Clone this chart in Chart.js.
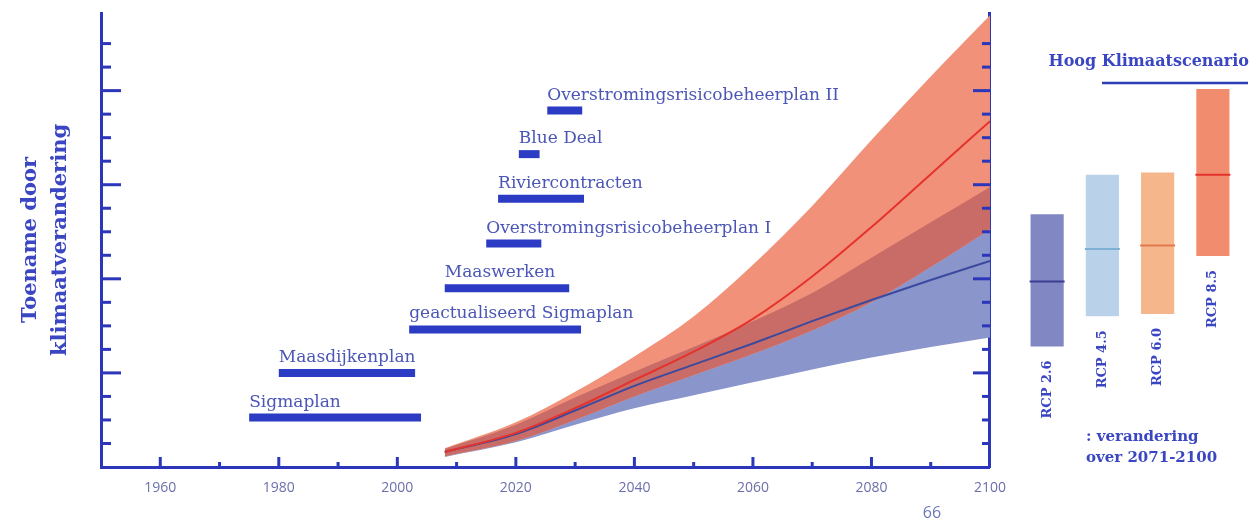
<!DOCTYPE html>
<html><head><meta charset="utf-8">
<script src="https://cdn.jsdelivr.net/npm/chart.js@4.4.0/dist/chart.umd.min.js"></script>
<style>
html,body{margin:0;padding:0;background:#fff;width:1260px;height:520px;overflow:hidden;}
#c1{position:absolute;left:0;top:0;}
#c2{position:absolute;left:1000px;top:0;}
</style></head><body>
<canvas id="c1" width="1019" height="520"></canvas>
<canvas id="c2" width="260" height="520"></canvas>
<script>
// ---- data ----
const years     = [2008, 2020, 2030, 2040, 2050, 2060, 2070, 2080, 2090, 2100];
const redUpper  = [0.8, 1.9, 3.2, 4.7, 6.4, 8.6, 11.1, 13.9, 16.6, 19.2];
const redMid    = [0.64, 1.45, 2.5, 3.7, 4.9, 6.3, 8.1, 10.2, 12.45, 14.7];
const redLower  = [0.45, 1.1, 2.0, 3.0, 3.9, 4.8, 5.8, 7.0, 8.5, 10.1];
const blueUpper = [0.77, 1.8, 2.95, 4.05, 5.1, 6.2, 7.4, 8.9, 10.4, 11.9];
const blueMid   = [0.64, 1.4, 2.4, 3.45, 4.35, 5.25, 6.2, 7.1, 7.95, 8.76];
const blueLower = [0.43, 1.05, 1.8, 2.5, 3.05, 3.6, 4.15, 4.65, 5.1, 5.5];

const planNames = ['Sigmaplan', 'Maasdijkenplan', 'geactualiseerd Sigmaplan', 'Maaswerken',
                   'Overstromingsrisicobeheerplan I', 'Riviercontracten', 'Blue Deal', 'Overstromingsrisicobeheerplan II'];
const planStart = [1975, 1980, 2002, 2008, 2015, 2017, 2020.5, 2025.3];
const planEnd   = [2004, 2003, 2031, 2029, 2024.3, 2031.5, 2024, 2031.2];
const planLevel = [2.1, 4.0, 5.85, 7.6, 9.5, 11.4, 13.3, 15.15];

const xTickYears = [1960, 1980, 2000, 2020, 2040, 2060, 2080, 2100];

const rcpLabels = ['RCP 2.6', 'RCP 4.5', 'RCP 6.0', 'RCP 8.5'];
const rcpLow    = [5.2, 6.5, 6.6, 9.1];
const rcpHigh   = [10.9, 12.6, 12.7, 16.3];
const rcpMid    = [8.0, 9.4, 9.55, 12.6];

// ---- styles ----
const AXIS = '#2b36bb';
const rcpColors    = ['#8087c2', '#bad1ea', '#f6b68c', '#f28c6e'];
const rcpMidColors = ['#3b3f92', '#7eb0d4', '#e2794e', '#e3322b'];

const pts = arr => years.map((x, i) => ({x, y: arr[i]}));
const band = {borderWidth: 0, borderColor: 'rgba(0,0,0,0)', pointRadius: 0, cubicInterpolationMode: 'monotone'};

const datasets = [
  {label: 'blueLower', data: pts(blueLower), ...band, fill: false, order: 20},
  {label: 'blueUpper', data: pts(blueUpper), ...band, fill: {target: 0}, backgroundColor: '#8a95cc', order: 19},
  {label: 'redLower',  data: pts(redLower),  ...band, fill: false, order: 18},
  {label: 'redUpper',  data: pts(redUpper),  ...band, fill: {target: 2}, backgroundColor: '#f1917a', order: 17},
  {label: 'overlap',   data: pts(blueUpper), ...band, fill: {target: 2, above: '#c96b67', below: 'rgba(0,0,0,0)'}, order: 16},
  {label: 'blueMid', data: pts(blueMid), borderColor: '#3c4a9e', borderWidth: 2, pointRadius: 0, cubicInterpolationMode: 'monotone', fill: false, order: 5},
  {label: 'redMid',  data: pts(redMid),  borderColor: '#e5332c', borderWidth: 2, pointRadius: 0, cubicInterpolationMode: 'monotone', fill: false, order: 4}
];
planNames.forEach((n, i) => {
  datasets.push({label: n, data: [{x: planStart[i], y: planLevel[i]}, {x: planEnd[i], y: planLevel[i]}],
    borderColor: '#2b3bc4', borderWidth: 8, borderCapStyle: 'butt', pointRadius: 0, fill: false, order: 1});
});

const axisTicks = {
  id: 'axisTicks',
  afterDraw(chart) {
    const {ctx, chartArea: {left, right, bottom}, scales: {x, y}} = chart;
    ctx.save();
    ctx.strokeStyle = AXIS; ctx.lineWidth = 3; ctx.lineCap = 'butt';
    y.ticks.forEach(t => {
      const v = t.value;
      if (!Number.isInteger(v) || v <= 0) return;
      const py = y.getPixelForValue(v), major = v % 4 === 0;
      ctx.beginPath(); ctx.moveTo(left, py); ctx.lineTo(left + (major ? 20 : 10), py); ctx.stroke();
      ctx.beginPath(); ctx.moveTo(right, py); ctx.lineTo(right - (major ? 17 : 8), py); ctx.stroke();
    });
    x.ticks.forEach(t => {
      const v = t.value;
      if (v <= 1950 || v >= 2100) return;
      const px = x.getPixelForValue(v), major = xTickYears.includes(v);
      ctx.beginPath(); ctx.moveTo(px, bottom); ctx.lineTo(px, bottom - (major ? 10 : 5)); ctx.stroke();
    });
    ctx.fillStyle = '#4b56b6'; ctx.font = '17px "DejaVu Serif"';
    ctx.textAlign = 'left'; ctx.textBaseline = 'alphabetic';
    planNames.forEach((n, i) => ctx.fillText(n, x.getPixelForValue(planStart[i]), y.getPixelForValue(planLevel[i]) - 11));
    ctx.fillStyle = '#6a78b8'; ctx.font = '16px "Open Sans"'; ctx.textAlign = 'center'; ctx.textBaseline = 'middle';
    ctx.fillText('66', 932, 513);
    ctx.restore();
  }
};

new Chart(document.getElementById('c1'), {
  type: 'line',
  data: {datasets},
  options: {
    responsive: false, animation: false, events: [],
    layout: {padding: {top: 13, right: 20, left: 0, bottom: 0}},
    plugins: {legend: {display: false}, tooltip: {enabled: false}},
    scales: {
      x: {type: 'linear', min: 1950, max: 2100, position: 'bottom', z: 1,
        grid: {display: false, drawTicks: false}, border: {display: true, color: AXIS, width: 3},
        ticks: {stepSize: 10, autoSkip: false, maxRotation: 0, padding: 13, color: '#6b70aa',
          font: {family: 'Open Sans', size: 14}, callback: v => xTickYears.includes(v) ? String(v) : ''},
        afterFit: s => { s.height = 53; }},
      y: {type: 'linear', min: 0, max: 19.3, position: 'left', z: 1,
        grid: {display: false, drawTicks: false}, border: {display: true, color: AXIS, width: 3},
        ticks: {display: false, stepSize: 1},
        title: {display: true, text: ['Toename door', 'klimaatverandering'], color: '#3a46c2',
          font: {family: 'DejaVu Serif', size: 21, weight: 'bold', lineHeight: 1.45}, padding: {top: 15, bottom: 0}},
        afterFit: s => { s.width = 101; }},
      y2: {type: 'linear', min: 0, max: 19.3, position: 'right', z: 1,
        grid: {display: false, drawTicks: false}, border: {display: true, color: AXIS, width: 3},
        ticks: {display: false, stepSize: 1},
        afterFit: s => { s.width = 0; }}
    }
  },
  plugins: [axisTicks]
});

const rcpText = {
  id: 'rcpText',
  afterDraw(chart) {
    const {ctx, scales: {x, y}} = chart;
    ctx.save();
    ctx.fillStyle = '#3a46c2';
    ctx.font = 'bold 13px "DejaVu Serif"';
    rcpLabels.forEach((l, i) => {
      ctx.save();
      ctx.translate(x.getPixelForValue(i), y.getPixelForValue(rcpLow[i]) + 14);
      ctx.rotate(-Math.PI / 2);
      ctx.textAlign = 'right'; ctx.textBaseline = 'middle';
      ctx.fillText(l, 0, 0);
      ctx.restore();
    });
    ctx.font = 'bold 16px "DejaVu Serif"';
    ctx.textAlign = 'right'; ctx.textBaseline = 'middle';
    ctx.fillText('Hoog Klimaatscenario', 249, 62);
    ctx.strokeStyle = '#2f3cb8'; ctx.lineWidth = 2.5;
    ctx.beginPath(); ctx.moveTo(102, 83); ctx.lineTo(248, 83); ctx.stroke();
    ctx.font = 'bold 15px "DejaVu Serif"';
    ctx.textAlign = 'left';
    ctx.fillText(': verandering', 86, 437);
    ctx.fillText('over 2071-2100', 86, 458);
    ctx.restore();
  }
};

new Chart(document.getElementById('c2'), {
  type: 'bar',
  data: {
    labels: rcpLabels,
    datasets: [
      {type: 'line', data: rcpMid, showLine: false, pointStyle: 'line', pointRadius: 17.5, pointBorderWidth: 2,
       pointBorderColor: rcpMidColors, pointBackgroundColor: rcpMidColors, order: 1},
      {type: 'bar', data: rcpLabels.map((_, i) => [rcpLow[i], rcpHigh[i]]), backgroundColor: rcpColors,
       borderWidth: 0, barPercentage: 0.6, categoryPercentage: 1, order: 2}
    ]
  },
  options: {
    responsive: false, animation: false, events: [],
    layout: {padding: {left: 16, right: 8, top: 13, bottom: 53}},
    plugins: {legend: {display: false}, tooltip: {enabled: false}},
    scales: {x: {display: false}, y: {display: false, min: 0, max: 19.3}}
  },
  plugins: [rcpText]
});
</script>
</body></html>
